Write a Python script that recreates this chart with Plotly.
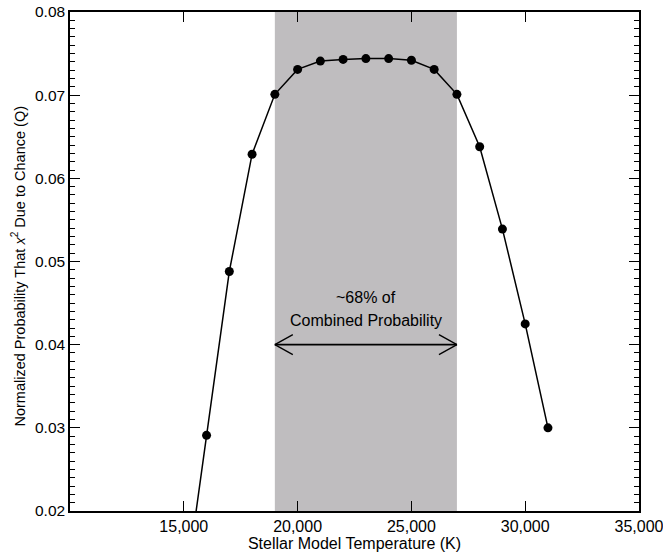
import plotly.graph_objects as go

# Data
temps = [15000, 16000, 17000, 18000, 19000, 20000, 21000, 22000, 23000,
         24000, 25000, 26000, 27000, 28000, 29000, 30000, 31000]
prob = [0.0093, 0.0291, 0.0488, 0.0629, 0.0701, 0.0731, 0.0741, 0.0743, 0.0744,
        0.0744, 0.0742, 0.0731, 0.0701, 0.0638, 0.0539, 0.0425, 0.0300]
band_lo, band_hi = 19000, 27000
arrow_y = 0.040
label_lines = ["~68% of", "Combined Probability"]
label_ys = [0.0457, 0.0429]
x_ticks = [15000, 20000, 25000, 30000, 35000]
x_tick_text = ["15,000", "20,000", "25,000", "30,000", "35,000"]
y_ticks = [0.02, 0.03, 0.04, 0.05, 0.06, 0.07, 0.08]
y_tick_text = ["0.02", "0.03", "0.04", "0.05", "0.06", "0.07", "0.08"]
y_title = "Normalized Probability That <i>x</i><sup>2</sup> Due to Chance (Q)"
x_title = "Stellar Model Temperature (K)"

# arrowhead size in data units (styling)
head_dx = 790
head_dy = 0.0012

FONT = "Liberation Sans, Arial, Helvetica, sans-serif"

fig = go.Figure()

fig.add_vrect(x0=band_lo, x1=band_hi, fillcolor="#bfbdbf", line_width=0,
              layer="below", opacity=1)

fig.add_trace(go.Scatter(
    x=temps, y=prob, mode="lines+markers",
    line=dict(color="black", width=1.5),
    marker=dict(color="black", size=9),
    showlegend=False, hoverinfo="skip"))

# double-headed arrow built from shapes
arrow_line = dict(color="black", width=1.6)
fig.add_shape(type="line", xref="x", yref="y", x0=band_lo, x1=band_hi,
              y0=arrow_y, y1=arrow_y, line=arrow_line)
for tip, sgn in ((band_lo, 1), (band_hi, -1)):
    for s in (1, -1):
        fig.add_shape(type="line", xref="x", yref="y",
                      x0=tip, y0=arrow_y,
                      x1=tip + sgn * head_dx, y1=arrow_y + s * head_dy,
                      line=dict(color="black", width=1.3))

for txt, yy in zip(label_lines, label_ys):
    fig.add_annotation(x=(band_lo + band_hi) / 2, y=yy, xref="x", yref="y",
                       text=txt, showarrow=False, yanchor="middle",
                       font=dict(family=FONT, size=16, color="black"))

# y-axis title as a rotated annotation for exact placement
fig.add_annotation(x=0, y=0.49, xref="paper", yref="paper", xshift=-51,
                   text=y_title, textangle=-90, showarrow=False,
                   xanchor="center", yanchor="middle",
                   font=dict(family=FONT, size=14.5, color="black"))

fig.update_layout(
    width=663, height=552,
    margin=dict(l=70, r=24, t=12, b=41),
    paper_bgcolor="white", plot_bgcolor="white",
    font=dict(family=FONT, size=16, color="black"),
)

fig.update_xaxes(
    range=[10000, 35000], tickvals=x_ticks, ticktext=x_tick_text,
    ticks="inside", ticklen=10, tickwidth=1, tickcolor="black",
    showline=True, linecolor="black", linewidth=1.5, mirror="allticks",
    showgrid=False, zeroline=False, automargin=False,
    ticklabeloverflow="allow",
    tickfont=dict(family=FONT, size=16),
    title=dict(text=x_title, standoff=0, font=dict(family=FONT, size=16)),
)

fig.update_yaxes(
    range=[0.02, 0.08], tickvals=y_ticks, ticktext=y_tick_text,
    ticks="inside", ticklen=10, tickwidth=1, tickcolor="black",
    minor=dict(dtick=0.001, ticks="inside", ticklen=5, tickcolor="black", tickwidth=1, showgrid=False),
    showline=True, linecolor="black", linewidth=1.5, mirror="allticks",
    showgrid=False, zeroline=False, automargin=False,
    ticklabeloverflow="allow",
    tickfont=dict(family=FONT, size=15.5),
)

fig.write_html("out.html", config={"displayModeBar": False},
               post_script="document.body.style.margin='0';document.body.style.overflow='hidden';")
